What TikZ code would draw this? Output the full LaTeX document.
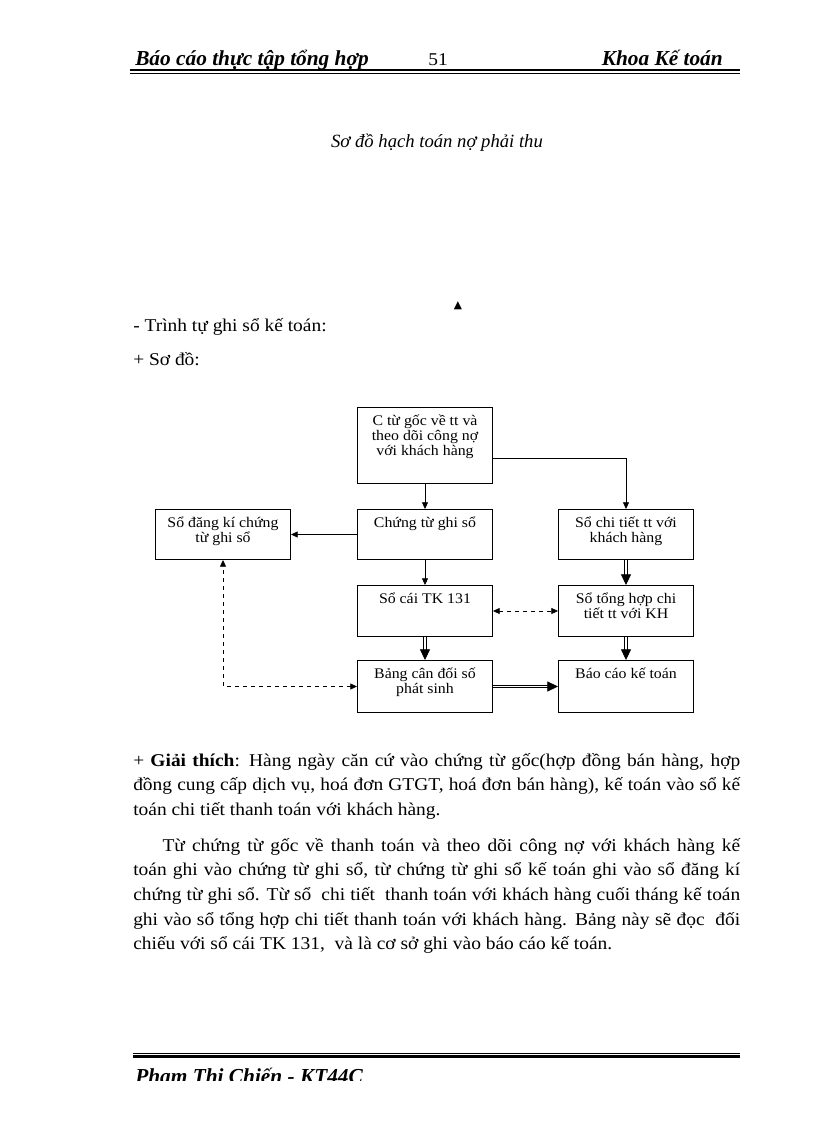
\documentclass[tikz,border=0pt]{standalone}
\usepackage{fontspec}
\setmainfont{Liberation Serif}
\newfontfamily\vnfont{Liberation Serif}[FakeStretch=1.08]
\newfontfamily\symfont{DejaVu Sans}
\usetikzlibrary{arrows.meta}
\tikzset{
  box/.style={draw, line width=0.75pt, inner sep=0pt, anchor=north west,
    font=\vnfont\fontsize{11}{11.25}\selectfont},
  arr/.style={line width=0.6pt, -{Triangle[length=5pt,width=4.5pt]}},
  dbl/.style={double, double distance=1.2pt, line width=0.6pt,
    -{Triangle[length=8pt,width=7.5pt]}},
  dsh/.style={line width=0.6pt, dash pattern=on 3pt off 3pt,
    {Triangle[length=5pt,width=4.5pt]}-{Triangle[length=5pt,width=4.5pt]}},
  body/.style={font=\vnfont\fontsize{13.5}{18.4}\selectfont, inner sep=0pt},
  head/.style={font=\fontsize{16}{18}\selectfont\bfseries\itshape, inner sep=0pt},
}
\newcommand{\cell}[2]{\parbox[c][#1][t]{101.25pt}{\centering\rule{0pt}{13.5pt}#2}}
\begin{document}
\begin{tikzpicture}[x=0.75pt,y=-0.75pt]
\useasboundingbox (0,0) rectangle (816,1123);
% header
\node[head, anchor=base west] (hleft) at (135,66) {Báo cáo thực tập tổng hợp};
\node[body, anchor=base] (hpage) at (438,66) {51};
\node[head, anchor=base east] (hright) at (723,66) {Khoa Kế toán};
\draw[line width=1.6pt] (130,70) -- (740,70);
\draw[line width=0.6pt] (130,73.5) -- (740,73.5);
\node[font=\fontsize{14}{16}\selectfont\itshape, anchor=base, inner sep=0pt] (title) at (437,148) {Sơ đồ hạch toán nợ phải thu};
\node[font=\symfont\fontsize{8}{9}\selectfont, inner sep=0pt] (mark) at (458,306) {▲};
\node[body, anchor=base west] (seq) at (133,331) {- Trình tự ghi sổ kế toán:};
\node[body, anchor=base west] (plan) at (133,365) {+ Sơ đồ:};
% boxes
\node[box] (goc) at (357,407) {\cell{57pt}{C từ gốc về tt và\\theo dõi công nợ\\với khách hàng}};
\node[box] (ctgs) at (357,509) {\cell{37.5pt}{Chứng từ ghi sổ}};
\node[box] (dk) at (155,509) {\cell{37.5pt}{Sổ đăng kí chứng\\từ ghi sổ}};
\node[box] (ct) at (558,509) {\cell{37.5pt}{Sổ chi tiết tt với\\khách hàng}};
\node[box] (cai) at (357,585) {\cell{38.25pt}{Sổ cái TK 131}};
\node[box] (th) at (558,585) {\cell{38.25pt}{Sổ tổng hợp chi\\tiết tt với KH}};
\node[box] (cd) at (357,660) {\cell{39pt}{Bảng cân đối số\\phát sinh}};
\node[box] (bc) at (558,660) {\cell{39pt}{Báo cáo kế toán}};
% connectors
\draw[arr] (goc) -- (ctgs);
\draw[arr] ([yshift=-9.75pt]goc.east) -| (ct.north);
\draw[arr] (ctgs) -- (dk);
\draw[arr] (ctgs) -- (cai);
\draw[dbl] (ct) -- (th);
\draw[dsh] (cai) -- (th);
\draw[dbl] (cai) -- (cd);
\draw[dbl] (th) -- (bc);
\draw[dbl] (cd) -- (bc);
\draw[dsh] (cd.west) -| (dk.south);
% explanation
\node[body, anchor=north west, text width=455.25pt, align=justify] (expl) at (133,749) {\strut+ \textbf{Giải thích}: Hàng ngày căn cứ vào chứng từ gốc(hợp đồng bán hàng, hợp\linebreak đồng cung cấp dịch vụ, hoá đơn GTGT, hoá đơn bán hàng), kế toán vào sổ kế\linebreak toán chi tiết thanh toán với khách hàng.};
\node[body, anchor=north west, text width=455.25pt, align=justify] (desc) at (133,834) {\strut\hspace*{22pt}Từ chứng từ gốc về thanh toán và theo dõi công nợ với khách hàng kế\linebreak toán ghi vào chứng từ ghi sổ, từ chứng từ ghi sổ kế toán ghi vào sổ đăng kí\linebreak chứng từ ghi sổ. Từ sổ \ chi tiết \ thanh toán với khách hàng cuối tháng kế toán\linebreak ghi vào sổ tổng hợp chi tiết thanh toán với khách hàng. Bảng này sẽ đọc \ đối\linebreak chiếu với sổ cái TK 131, \ và là cơ sở ghi vào báo cáo kế toán.};
% footer
\draw[line width=0.6pt] (133,1053) -- (740,1053);
\draw[line width=1.6pt] (133,1056.5) -- (740,1056.5);
\begin{scope}
\clip (0,0) rectangle (816,1080);
\node[head, anchor=base west] (author) at (135,1083) {Phạm Thị Chiến - KT44C};
\end{scope}
\end{tikzpicture}
\end{document}
